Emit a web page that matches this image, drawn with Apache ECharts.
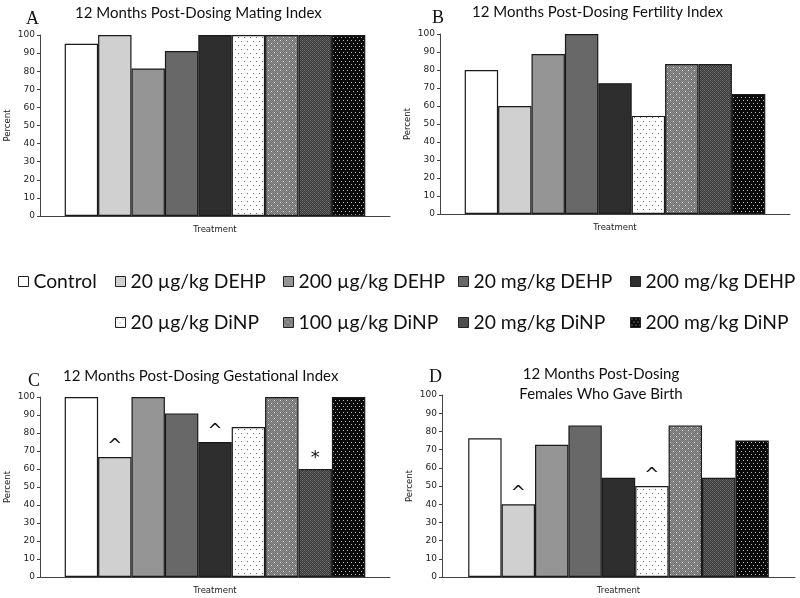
<!DOCTYPE html>
<html>
<head>
<meta charset="utf-8">
<script src="https://cdn.jsdelivr.net/npm/echarts@6/dist/echarts.min.js"></script>
<style>html,body{margin:0;padding:0;background:#fff;}#c{width:800px;height:598px;}</style>
</head>
<body>
<div id="c"></div>
<script>
const categories = ['Control', '20 µg/kg DEHP', '200 µg/kg DEHP', '20 mg/kg DEHP', '200 mg/kg DEHP', '20 µg/kg DiNP', '100 µg/kg DiNP', '20 mg/kg DiNP', '200 mg/kg DiNP'];
const matingIndex = [95.2, 100, 81.5, 91.1, 100, 100, 100, 100, 100];
const fertilityIndex = [80, 60, 88.9, 100, 72.7, 54.5, 83.3, 83.3, 66.7];
const gestationalIndex = [100, 66.7, 100, 90.9, 75, 83.3, 100, 60, 100];
const gaveBirth = [76.2, 40, 72.7, 83.3, 54.5, 50, 83.3, 54.5, 75];
const matingMarks = ['', '', '', '', '', '', '', '', ''];
const fertilityMarks = ['', '', '', '', '', '', '', '', ''];
const gestationalMarks = ['', '^', '', '', '^', '', '', '*', ''];
const birthMarks = ['', '^', '', '', '', '^', '', '', ''];
const panelLetters = ['A', 'B', 'C', 'D'];
const panelTitles = ['12 Months Post-Dosing Mating Index', '12 Months Post-Dosing Fertility Index', '12 Months Post-Dosing Gestational Index', '12 Months Post-Dosing\nFemales Who Gave Birth'];
const yAxisName = 'Percent';
const xAxisName = 'Treatment';
const yMin = 0, yMax = 100, yStep = 10;

function makePattern(w, h, bg, draw) {
  const cv = document.createElement('canvas');
  cv.width = w; cv.height = h;
  const ctx = cv.getContext('2d');
  ctx.fillStyle = bg; ctx.fillRect(0, 0, w, h);
  draw(ctx);
  return { image: cv, repeat: 'repeat' };
}
function px(ctx, x, y, c) { ctx.fillStyle = c; ctx.fillRect(x, y, 1, 1); }

const pat1 = makePattern(6, 8, '#ffffff', ctx => { px(ctx, 1, 1, '#666'); px(ctx, 4, 5, '#666'); });
const pat2 = makePattern(6, 6, '#717171', ctx => {
  for (let y = 0; y < 6; y++) for (let x = 0; x < 6; x++) if ((x + y) % 2 === 0) px(ctx, x, y, '#8e8e8e');
  px(ctx, 1, 1, '#e6e6e6'); px(ctx, 4, 4, '#e6e6e6');
});
const pat3 = makePattern(4, 4, '#3a3a3a', ctx => {
  for (let y = 0; y < 4; y++) for (let x = 0; x < 4; x++) if ((x + y) % 2 === 0) px(ctx, x, y, '#5c5c5c');
  px(ctx, 2, 0, '#777'); px(ctx, 0, 2, '#777');
});
const pat4 = makePattern(4, 6, '#0a0a0a', ctx => { px(ctx, 1, 1, '#bdbdbd'); px(ctx, 3, 4, '#bdbdbd'); });

const fills = ['#ffffff', '#d0d0d0', '#959595', '#686868', '#2e2e2e', pat1, pat2, pat3, pat4];

const panels = [
  { values: matingIndex, marks: matingMarks, grid: { left: 40, top: 35, width: 350, height: 181 } },
  { values: fertilityIndex, marks: fertilityMarks, grid: { left: 440, top: 34, width: 350, height: 180 } },
  { values: gestationalIndex, marks: gestationalMarks, grid: { left: 40, top: 397, width: 350, height: 180 } },
  { values: gaveBirth, marks: birthMarks, grid: { left: 442, top: 395, width: 353, height: 182 } }
];

const tickFont = 'DejaVu Sans';
const grid = [], xAxis = [], yAxis = [], series = [];
panels.forEach((p, i) => {
  grid.push(p.grid);
  xAxis.push({
    type: 'category', gridIndex: i, data: [''],
    name: xAxisName, nameLocation: 'middle', nameGap: 9,
    nameTextStyle: { fontFamily: tickFont, fontSize: 8.5, color: '#222' },
    axisLine: { show: true, lineStyle: { color: '#444', width: 1 } },
    axisTick: { show: false }, axisLabel: { show: false }, splitLine: { show: false }
  });
  yAxis.push({
    type: 'value', gridIndex: i, min: yMin, max: yMax, interval: yStep,
    name: yAxisName, nameLocation: 'middle', nameGap: 28, nameRotate: 90,
    nameTextStyle: { fontFamily: tickFont, fontSize: 8.5, color: '#222' },
    axisLine: { show: true, lineStyle: { color: '#444', width: 1 } },
    axisTick: { show: true, length: 3, lineStyle: { color: '#444' } },
    axisLabel: { fontFamily: tickFont, fontSize: 9, color: '#222', margin: 5 },
    splitLine: { show: false }
  });
  categories.forEach((name, k) => {
    const mark = p.marks[k];
    series.push({
      type: 'bar', name: name, xAxisIndex: i, yAxisIndex: i,
      barWidth: 33.4, barGap: '0%',
      itemStyle: { color: fills[k], borderColor: '#1a1a1a', borderWidth: 1.2 },
      label: { show: !!mark, position: 'top', distance: 2, formatter: mark || '', fontSize: 18, fontFamily: 'DejaVu Sans', color: '#111' },
      emphasis: { disabled: true },
      data: [p.values[k]]
    });
  });
});

const titleFont = 'Lato';
const letterStyle = { fontFamily: 'Liberation Serif', fontSize: 18, fontWeight: 'normal', color: '#111' };
const titleStyle = { fontFamily: titleFont, fontSize: 15, fontWeight: 'normal', color: '#111' };
const title = [
  { text: panelLetters[0], left: 21, top: 5, textStyle: letterStyle },
  { text: panelTitles[0], left: 70, top: 1, textStyle: titleStyle },
  { text: panelLetters[1], left: 427, top: 4, textStyle: letterStyle },
  { text: panelTitles[1], left: 467, top: 0, textStyle: titleStyle },
  { text: panelLetters[2], left: 23, top: 367, textStyle: letterStyle },
  { text: panelTitles[2], left: 58, top: 364, textStyle: titleStyle },
  { text: panelLetters[3], left: 424, top: 363, textStyle: letterStyle },
  { text: panelTitles[3], left: 596, top: 359, textAlign: 'center', textStyle: Object.assign({}, titleStyle, { lineHeight: 20, align: 'center' }) }
];

const legendPos = [[18, 272], [115, 272], [283, 272], [458, 272], [630, 272], [115, 313], [283, 313], [458, 313], [630, 313]];
const legend = categories.map((name, k) => ({
  data: [name], left: legendPos[k][0], top: legendPos[k][1], padding: 0,
  icon: 'rect', itemWidth: 10, itemHeight: 10, itemGap: 0,
  itemStyle: { borderColor: '#222', borderWidth: 1 },
  selectedMode: false,
  textStyle: { fontFamily: titleFont, fontSize: 19.3, color: '#111' }
}));

const chart = echarts.init(document.getElementById('c'), null, { renderer: 'canvas' });
chart.setOption({ animation: false, backgroundColor: '#fff', title, legend, grid, xAxis, yAxis, series });
</script>
</body>
</html>
